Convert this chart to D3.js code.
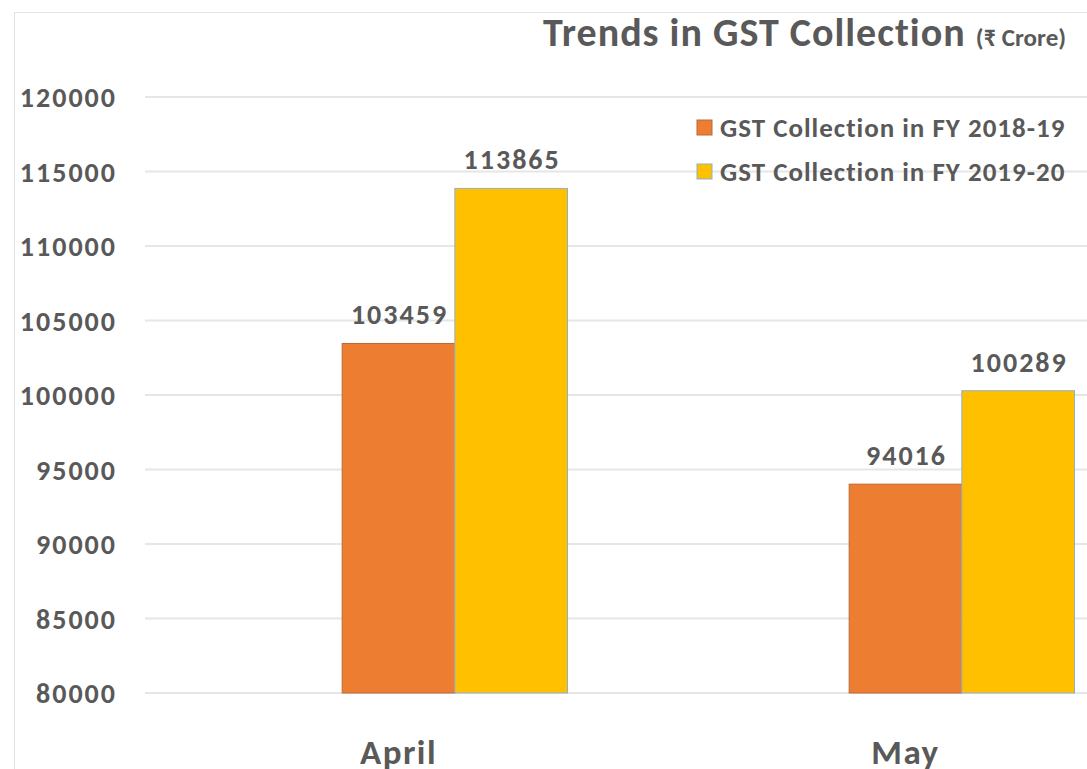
<!DOCTYPE html>
<html>
<head>
  <meta charset="utf-8">
  <title>Trends in GST Collection</title>
  <style>
    body { margin: 0; background: #fff; }
    text { font-family: Carlito, Calibri, "Liberation Sans Narrow", "Liberation Sans", sans-serif; fill: #595959; }
  </style>
</head>
<body>
  <svg id="chart"></svg>

  <script src="https://d3js.org/d3.v7.min.js"></script>
  <script>
    // data
    const months = ["April", "May"];
    const seriesNames = ["GST Collection in FY 2018-19", "GST Collection in FY 2019-20"];
    const fy1819 = [103459, 94016];
    const fy1920 = [113865, 100289];
    const yTicks = [80000, 85000, 90000, 95000, 100000, 105000, 110000, 115000, 120000];
    const colors = ["#ED7D31", "#FFC000"];
    const strokes = ["#b86a3a", "#8fb0cc"];

    const width = 1087;
    const height = 769;

    const svg = d3.select("#chart")
      .attr("width", width)
      .attr("height", height);

    // chart border
    svg.append("rect")
      .attr("x", 14.5).attr("y", 12.5)
      .attr("width", 1200).attr("height", 900)
      .attr("fill", "none")
      .attr("stroke", "#e3e3e3");

    const y = d3.scaleLinear()
      .domain([80000, 120000])
      .range([693, 97]);

    const x = d3.scaleBand()
      .domain(months)
      .range([145, 1159]);

    // excel puts an empty slot before the two series
    const slots = ["", ...seriesNames];
    const xInner = d3.scaleBand()
      .domain(slots)
      .range([0, x.bandwidth()])
      .paddingOuter(0.75);

    // gridlines
    svg.append("g")
      .selectAll("line")
      .data(yTicks)
      .enter().append("line")
      .attr("x1", 145).attr("x2", width)
      .attr("y1", d => y(d)).attr("y2", d => y(d))
      .attr("stroke", "#e6e6e6")
      .attr("stroke-width", 2);

    // y labels
    svg.append("g")
      .selectAll("text")
      .data(yTicks)
      .enter().append("text")
      .attr("x", 117)
      .attr("y", d => y(d) + 10)
      .attr("text-anchor", "end")
      .attr("font-size", 28)
      .attr("letter-spacing", 2)
      .attr("font-weight", "bold")
      .text(d => d);

    const series = [fy1819, fy1920];

    series.forEach((vals, si) => {
      const g = svg.append("g");
      const rows = months.map((m, i) => ({ month: m, value: vals[i] }));

      g.selectAll("rect")
        .data(rows)
        .enter().append("rect")
        .attr("x", d => x(d.month) + xInner(seriesNames[si]))
        .attr("y", d => y(d.value))
        .attr("width", xInner.bandwidth())
        .attr("height", d => y(80000) - y(d.value))
        .attr("fill", colors[si])
        .attr("stroke", strokes[si])
        .attr("stroke-width", 1);

      g.selectAll("text")
        .data(rows)
        .enter().append("text")
        .attr("x", d => x(d.month) + xInner(seriesNames[si]) + xInner.bandwidth() / 2 + 1)
        .attr("y", d => y(d.value) - 19)
        .attr("text-anchor", "middle")
        .attr("font-size", 28)
        .attr("letter-spacing", 2)
        .attr("font-weight", "bold")
        .text(d => d.value);
    });

    // x labels
    svg.append("g")
      .selectAll("text")
      .data(months)
      .enter().append("text")
      .attr("x", d => x(d) + x.bandwidth() / 2)
      .attr("y", 764)
      .attr("text-anchor", "middle")
      .attr("font-size", 35)
      .attr("letter-spacing", 1.5)
      .attr("font-weight", "bold")
      .text(d => d);

    // title
    const title = svg.append("text")
      .attr("x", 543)
      .attr("y", 46)
      .attr("font-weight", "bold");
    title.append("tspan").attr("font-size", 40).attr("letter-spacing", 1).text("Trends in GST Collection ");
    title.append("tspan").attr("font-size", 25).text("(₹ Crore)");

    // legend
    const legend = svg.append("g")
      .selectAll("g")
      .data(seriesNames)
      .enter().append("g")
      .attr("transform", (d, i) => `translate(697, ${120 + i * 44})`);

    legend.append("rect")
      .attr("width", 15).attr("height", 15)
      .attr("fill", (d, i) => colors[i])
      .attr("stroke", (d, i) => strokes[i]);

    legend.append("text")
      .attr("x", 23)
      .attr("y", 17)
      .attr("font-size", 27)
      .attr("letter-spacing", 1)
      .attr("font-weight", 600)
      .text(d => d);
  </script>
</body>
</html>
